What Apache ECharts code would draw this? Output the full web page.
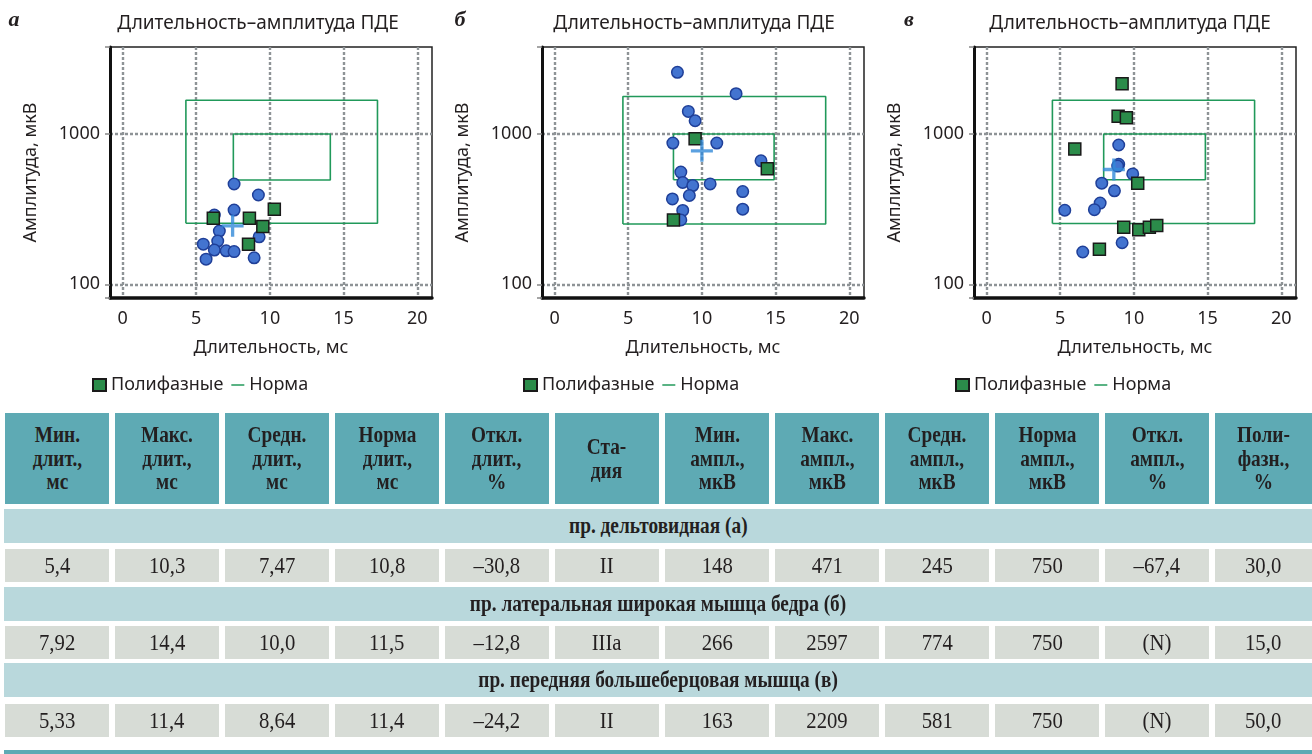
<!DOCTYPE html>
<html>
<head>
<meta charset="utf-8">
<script src="https://cdn.jsdelivr.net/npm/echarts@6/dist/echarts.min.js"></script>
<style>
html,body{margin:0;padding:0;background:#fff;width:1312px;height:754px;overflow:hidden;}
#chart{position:absolute;left:0;top:0;width:1312px;height:400px;}
#table{position:absolute;left:0;top:0;width:1312px;height:754px;pointer-events:none;}
.cell{position:absolute;box-sizing:border-box;display:flex;align-items:center;justify-content:center;text-align:center;font-family:"Liberation Serif","Times New Roman",serif;color:#231f20;white-space:pre-line;}
.cell span{display:inline-block;transform-origin:50% 50%;}
.hdr{background:#5eaab4;font-weight:bold;font-size:23px;line-height:23.5px;}
.hdr span{transform:scaleX(0.84);}
.sec{background:#b9d8dc;font-weight:bold;font-size:23px;}
.sec span{transform:scaleX(0.84);}
.dat{background:#d7dcd6;font-size:23px;}
.dat span{transform:scaleX(0.9);}
.bar{background:#5eaab4;}
</style>
</head>
<body>
<div id="chart"></div>
<div id="table"></div>
<script>
// ---------- chart data ----------
const panelLetters = ['а', 'б', 'в'];
const chartTitle = 'Длительность–амплитуда ПДЕ';
const xAxisName = 'Длительность, мс';
const yAxisName = 'Амплитуда, мкВ';
const legendNames = ['Полифазные', 'Норма'];

// panel а (deltoid)
const circDurA = [7.57, 9.22, 7.57, 6.23, 6.57, 9.27, 6.46, 5.48, 6.23, 7.03, 7.57, 5.67, 8.93];
const circAmpA = [465, 393, 312, 289, 226, 207, 194, 185, 169, 167, 165, 147, 150];
const polyDurA = [6.16, 8.61, 10.3, 9.52, 8.55];
const polyAmpA = [275, 275, 316, 242, 185];

// panel б (vastus lateralis)
const circDurB = [8.34, 12.32, 9.08, 9.54, 8.03, 11.01, 14.01, 8.57, 8.7, 9.38, 10.56, 9.15, 12.77, 8.0, 8.7, 12.77, 8.57];
const circAmpB = [2579, 1857, 1416, 1227, 871, 871, 664, 558, 476, 454, 466, 390, 414, 370, 310, 316, 268];
const polyDurB = [9.54, 14.44, 8.07];
const polyAmpB = [931, 587, 268];

// panel в (tibialis anterior)
const circDurC = [8.97, 8.97, 8.9, 9.92, 7.82, 8.68, 7.71, 7.32, 5.31, 9.2, 6.53];
const circAmpC = [846, 629, 612, 543, 471, 419, 347, 314, 311, 189, 164];
const polyDurC = [9.2, 8.93, 9.49, 5.99, 10.26, 9.31, 10.33, 11.05, 11.55, 7.66];
const polyAmpC = [2166, 1316, 1283, 796, 471, 240, 231, 240, 246, 171];

// means (cross marker)
const meanDur = [7.47, 10.0, 8.64];
const meanAmp = [245, 774, 581];

// norm boxes
const outerDurMin = [4.3, 4.64, 4.47];
const outerDurMax = [17.3, 18.4, 18.19];
const outerAmpMin = [255, 252, 254];
const outerAmpMax = [1680, 1780, 1680];
const innerDurMin = [7.52, 8.07, 7.95];
const innerDurMax = [14.1, 14.9, 14.85];
const innerAmpMin = [495, 496, 496];
const innerAmpMax = [1000, 1000, 1000];

// ---------- table data ----------
const tableHeaders = ['Мин.\nдлит.,\nмс', 'Макс.\nдлит.,\nмс', 'Средн.\nдлит.,\nмс', 'Норма\nдлит.,\nмс', 'Откл.\nдлит.,\n%', 'Ста-\nдия', 'Мин.\nампл.,\nмкВ', 'Макс.\nампл.,\nмкВ', 'Средн.\nампл.,\nмкВ', 'Норма\nампл.,\nмкВ', 'Откл.\nампл.,\n%', 'Поли-\nфазн.,\n%'];
const sectionTitles = ['пр. дельтовидная (а)', 'пр. латеральная широкая мышца бедра (б)', 'пр. передняя большеберцовая мышца (в)'];
const rowA = ['5,4', '10,3', '7,47', '10,8', '–30,8', 'II', '148', '471', '245', '750', '–67,4', '30,0'];
const rowB = ['7,92', '14,4', '10,0', '11,5', '–12,8', 'IIIa', '266', '2597', '774', '750', '(N)', '15,0'];
const rowC = ['5,33', '11,4', '8,64', '11,4', '–24,2', 'II', '163', '2209', '581', '750', '(N)', '50,0'];

// ---------- build chart ----------
const circDur = [circDurA, circDurB, circDurC];
const circAmp = [circAmpA, circAmpB, circAmpC];
const polyDur = [polyDurA, polyDurB, polyDurC];
const polyAmp = [polyAmpA, polyAmpB, polyAmpC];

const FONT = '"Noto Sans", "Open Sans", sans-serif';
const TXT = '#231f20';
const gridLeft = [110, 542, 974];
const titleX = [258, 694, 1130];
const letterX = [14, 460, 909];
const legendLeft = [92, 523, 955];
const zip = (a, b) => a.map((v, i) => [v, b[i]]);
const rect = (x1, x2, y1, y2) => [[x1, y1], [x2, y1], [x2, y2], [x1, y2], [x1, y1]];
const plusPath = 'path://M8.5,0h3v8.5h8.5v3h-8.5v8.5h-3v-8.5h-8.5v-3h8.5z';
const isPow10 = v => { const l = Math.log10(v); return Math.abs(l - Math.round(l)) < 1e-6; };
const gridLineStyle = { color: '#8e9396', width: 2.4, type: [3, 2] };

const grids = [], xAxes = [], yAxes = [], series = [], legends = [], graphics = [];
for (let i = 0; i < 3; i++) {
  grids.push({ left: gridLeft[i], top: 47, width: 322, height: 251, show: true, borderColor: '#222', borderWidth: 1.5, containLabel: false });
  xAxes.push({
    type: 'value', gridIndex: i, min: -0.85, max: 21, splitNumber: 5,
    name: xAxisName, nameLocation: 'middle', nameGap: 41,
    nameTextStyle: { fontSize: 18, color: TXT, fontFamily: FONT },
    axisLine: { onZero: false, lineStyle: { color: '#111', width: 3.5 } },
    axisTick: { show: false },
    axisLabel: { fontSize: 18, color: TXT, fontFamily: FONT, margin: 12,
      formatter: v => (Math.abs(v / 5 - Math.round(v / 5)) < 1e-6 ? String(Math.round(v)) : '') },
    splitLine: { show: true, showMinLine: false, showMaxLine: false, lineStyle: gridLineStyle }
  });
  yAxes.push({
    type: 'log', logBase: 10, gridIndex: i, min: 81, max: 3800,
    name: yAxisName, nameLocation: 'middle', nameGap: 70, nameRotate: 90,
    nameTextStyle: { fontSize: 18, color: TXT, fontFamily: FONT },
    axisLine: { onZero: false, lineStyle: { color: '#111', width: 3 } },
    axisTick: { show: true, length: 5, lineStyle: { color: '#888', width: 1.5 } },
    axisLabel: { fontSize: 18, color: TXT, fontFamily: FONT, margin: 10,
      formatter: v => (isPow10(v) ? String(Math.round(v)) : '') },
    splitLine: { show: true, showMinLine: false, showMaxLine: false, lineStyle: gridLineStyle }
  });
  const normStyle = { color: '#21995a', width: 1.6 };
  series.push({
    type: 'line', name: 'Норма', xAxisIndex: i, yAxisIndex: i, silent: true, symbol: 'none', z: 2,
    itemStyle: { color: '#21995a' }, lineStyle: normStyle,
    data: rect(outerDurMin[i], outerDurMax[i], outerAmpMin[i], outerAmpMax[i])
  });
  series.push({
    type: 'line', name: 'Норма', xAxisIndex: i, yAxisIndex: i, silent: true, symbol: 'none', z: 2,
    itemStyle: { color: '#21995a' }, lineStyle: normStyle,
    data: rect(innerDurMin[i], innerDurMax[i], innerAmpMin[i], innerAmpMax[i])
  });
  series.push({
    type: 'scatter', name: 'ПДЕ', xAxisIndex: i, yAxisIndex: i, symbol: 'circle', symbolSize: 11.5, z: 3,
    itemStyle: { color: '#4374d0', borderColor: '#1f3f98', borderWidth: 1.5, opacity: 1 },
    data: zip(circDur[i], circAmp[i])
  });
  series.push({
    type: 'scatter', name: 'Полифазные', xAxisIndex: i, yAxisIndex: i, symbol: 'rect', symbolSize: 12, z: 4,
    itemStyle: { color: '#2b8c4a', borderColor: '#1a1a1a', borderWidth: 1.5, opacity: 1 },
    data: zip(polyDur[i], polyAmp[i])
  });
  series.push({
    type: 'scatter', name: 'Среднее', xAxisIndex: i, yAxisIndex: i, symbol: plusPath, symbolSize: 22, z: 5,
    itemStyle: { color: '#3289d8' },
    data: [[meanDur[i], meanAmp[i]]]
  });
  legends.push({
    left: legendLeft[i], top: 376, padding: 0, itemWidth: 13, itemHeight: 12, itemGap: 8,
    selectedMode: false,
    textStyle: { fontSize: 18, color: TXT, fontFamily: FONT },
    data: [{ name: legendNames[0], icon: 'rect' }, { name: legendNames[1], icon: 'path://M0,0H14V1.6H0Z' }]
  });
  graphics.push({
    type: 'text', x: titleX[i], y: 24,
    style: { text: chartTitle, fontSize: 19, fontFamily: FONT, fill: TXT, align: 'center', verticalAlign: 'middle' }
  });
  graphics.push({
    type: 'text', x: letterX[i], y: 20,
    style: { text: panelLetters[i], font: 'italic bold 22px "Liberation Serif", serif', fill: TXT, align: 'center', verticalAlign: 'middle' }
  });
}

const chart = echarts.init(document.getElementById('chart'), null, { renderer: 'canvas' });
chart.setOption({
  animation: false,
  backgroundColor: '#fff',
  grid: grids, xAxis: xAxes, yAxis: yAxes, series: series, legend: legends,
  graphic: graphics
});

// ---------- build table ----------
const tbl = document.getElementById('table');
const colLeft = i => 5 + i * 110;
const colW = i => Math.min(104, 1312 - colLeft(i));
function addCell(cls, left, top, w, h, text) {
  const d = document.createElement('div');
  d.className = 'cell ' + cls;
  d.style.left = left + 'px'; d.style.top = top + 'px';
  d.style.width = w + 'px'; d.style.height = h + 'px';
  if (text) { const s = document.createElement('span'); s.textContent = text; d.appendChild(s); }
  tbl.appendChild(d);
}
tableHeaders.forEach((t, i) => addCell('hdr', colLeft(i), 413, colW(i), 91, t));
const secTops = [509, 587, 663];
const rowTops = [549, 626, 704];
const rows = [rowA, rowB, rowC];
sectionTitles.forEach((t, k) => {
  addCell('sec', 4, secTops[k], 1308, 34, t);
  rows[k].forEach((v, i) => addCell('dat', colLeft(i), rowTops[k], colW(i), 33, v));
});
addCell('bar', 4, 750, 1308, 10, '');
</script>
</body>
</html>
